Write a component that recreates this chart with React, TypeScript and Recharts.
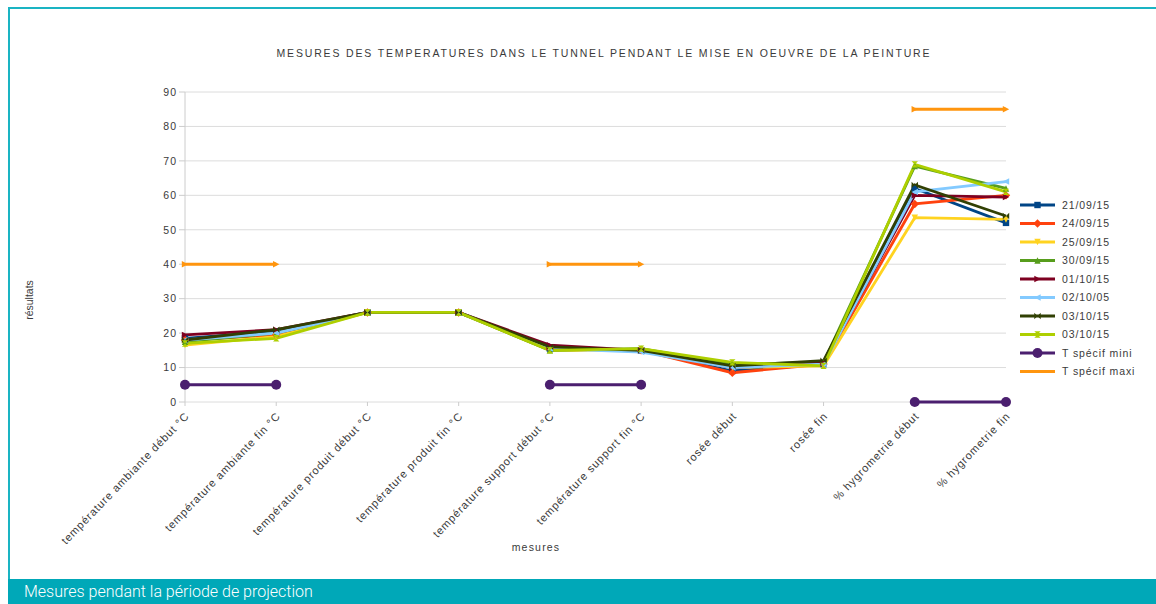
import React from "react";
import { LineChart, Line, XAxis, YAxis, CartesianGrid } from "recharts";

const categories = [
  "température ambiante début °C",
  "température ambiante fin °C",
  "température produit début °C",
  "température produit fin °C",
  "température support début °C",
  "température support fin °C",
  "rosée début",
  "rosée fin",
  "% hygrometrie début",
  "% hygrometrie fin",
];

const s2109 = [18.5, 20.5, 26, 26, 15.5, 15, 9, 11, 62, 52];
const s2409 = [18, 19.5, 26, 26, 15.5, 15, 8.5, 11, 57.5, 60];
const s2509 = [16.5, 19, 26, 26, 15, 15, 10, 10.5, 53.5, 53];
const s3009 = [17.5, 20, 26, 26, 15, 15.5, 11, 11.5, 68.5, 62];
const s0110 = [19.5, 21, 26, 26, 16.5, 15, 10, 11.5, 60, 59.5];
const s0210 = [18, 20, 26, 26, 15.5, 14.5, 10, 11, 61, 64];
const s0310a = [18, 21, 26, 26, 16, 15, 10.5, 12, 63, 54];
const s0310b = [17, 18.5, 26, 26, 15, 15.5, 11.5, 10.5, 69, 61];
const specMin = [5, 5, null, null, 5, 5, null, null, 0, 0];
const specMax = [40, 40, null, null, 40, 40, null, null, 85, 85];

const seriesNames = [
  "21/09/15",
  "24/09/15",
  "25/09/15",
  "30/09/15",
  "01/10/15",
  "02/10/05",
  "03/10/15",
  "03/10/15",
  "T spécif mini",
  "T spécif maxi",
];
const seriesValues = [s2109, s2409, s2509, s3009, s0110, s0210, s0310a, s0310b, specMin, specMax];
const seriesColors = [
  "#004586",
  "#ff420e",
  "#ffd320",
  "#579d1c",
  "#7e0021",
  "#83caff",
  "#314004",
  "#aecf00",
  "#4b1f6f",
  "#ff950e",
];
const yTicks = [0, 10, 20, 30, 40, 50, 60, 70, 80, 90];

const data = categories.map((c, i) => {
  const row: any = { cat: c };
  seriesValues.forEach((s, j) => {
    row["k" + j] = s[i];
  });
  return row;
});

const FONT = "'Liberation Sans', Arial, sans-serif";
const TXT = "#3a3a3a";

function marker(idx: number, cx: number, cy: number, color: string, key?: any) {
  const r = idx === 8 ? 5 : 3.2;
  switch (idx) {
    case 0:
      return <rect key={key} x={cx - r} y={cy - r} width={2 * r} height={2 * r} fill={color} />;
    case 1:
      return (
        <polygon key={key} points={`${cx},${cy - r - 1} ${cx + r + 1},${cy} ${cx},${cy + r + 1} ${cx - r - 1},${cy}`} fill={color} />
      );
    case 2:
      return <polygon key={key} points={`${cx - r},${cy - r} ${cx + r},${cy - r} ${cx},${cy + r}`} fill={color} />;
    case 3:
      return <polygon key={key} points={`${cx - r},${cy + r} ${cx + r},${cy + r} ${cx},${cy - r}`} fill={color} />;
    case 4:
      return <polygon key={key} points={`${cx - r},${cy - r} ${cx - r},${cy + r} ${cx + r},${cy}`} fill={color} />;
    case 5:
      return <polygon key={key} points={`${cx + r},${cy - r} ${cx + r},${cy + r} ${cx - r},${cy}`} fill={color} />;
    case 6:
      return (
        <polygon key={key} points={`${cx - r},${cy - r} ${cx + r},${cy + r} ${cx + r},${cy - r} ${cx - r},${cy + r}`} fill={color} />
      );
    case 7:
      return (
        <polygon key={key} points={`${cx - r},${cy - r} ${cx + r},${cy - r} ${cx - r},${cy + r} ${cx + r},${cy + r}`} fill={color} />
      );
    case 8:
      return <circle key={key} cx={cx} cy={cy} r={r} fill={color} />;
    default:
      return <polygon key={key} points={`${cx - r},${cy - r} ${cx - r},${cy + r} ${cx + r},${cy}`} fill={color} />;
  }
}

function makeDot(idx: number) {
  return (props: any) => {
    const { cx, cy, value, key } = props;
    if (cx == null || cy == null || value == null) return <g key={key} />;
    return marker(idx, cx, cy, seriesColors[idx], key);
  };
}

const XTick = (props: any) => {
  const { x, y, payload } = props;
  return (
    <g transform={`translate(${x + 2},${y + 6})`}>
      <text
        transform="rotate(-46)"
        textAnchor="end"
        fontSize={11}
        letterSpacing={0.85}
        fontFamily={FONT}
        fill={TXT}
        dy={4}
      >
        {payload.value}
      </text>
    </g>
  );
};

export default function App() {
  return (
    <div
      style={{
        position: "absolute",
        left: 0,
        top: 0,
        width: 1156,
        height: 604,
        background: "#fff",
        overflow: "hidden",
        fontFamily: FONT,
      }}
    >
      {/* frame */}
      <div style={{ position: "absolute", left: 8, top: 7, width: 1148, height: 2, background: "#1ab4c3" }} />
      <div style={{ position: "absolute", left: 8, top: 7, width: 2, height: 572, background: "#1ab4c3" }} />
      <div
        style={{
          position: "absolute",
          left: 8,
          top: 579,
          width: 1148,
          height: 25,
          background: "#00a8b8",
          color: "#fff",
          fontFamily: "Roboto, 'Noto Sans', sans-serif",
          fontWeight: 300,
          fontSize: 16,
          lineHeight: "25px",
          paddingLeft: 16,
          boxSizing: "border-box",
        }}
      >
        Mesures pendant la période de projection
      </div>

      <div style={{ position: "absolute", left: 0, top: 0 }}>
        <LineChart
          width={1156}
          height={579}
          data={data}
          margin={{ top: 92, right: 150, bottom: 57, left: 145 }}
        >
          <CartesianGrid vertical={false} stroke="#dcdcdc" />
          <XAxis
            dataKey="cat"
            interval={0}
            height={120}
            tick={<XTick />}
            tickLine={{ stroke: "#ccc" }}
            axisLine={false}
            tickSize={4}
          />
          <YAxis
            domain={[0, 90]}
            ticks={yTicks}
            width={40}
            tick={{ fontSize: 10.5, fontFamily: FONT, fill: TXT, letterSpacing: 1 }}
            tickLine={{ stroke: "#ccc" }}
            axisLine={{ stroke: "#ccc" }}
            tickSize={6}
          />
          {seriesValues.map((_, j) => (
            <Line
              key={j}
              dataKey={"k" + j}
              name={seriesNames[j]}
              type="linear"
              stroke={seriesColors[j]}
              strokeWidth={j >= 8 ? 3 : 2.8}
              dot={makeDot(j)}
              activeDot={false}
              isAnimationActive={false}
            />
          ))}
          <text
            x={603}
            y={57}
            textAnchor="middle"
            fontSize={10.5}
            fontFamily={FONT}
            fill={TXT}
            textLength={653}
            lengthAdjust="spacing"
          >
            MESURES DES TEMPERATURES DANS LE TUNNEL PENDANT LE MISE EN OEUVRE DE LA PEINTURE
          </text>
          <text x={536} y={551} textAnchor="middle" fontSize={10.5} letterSpacing={1.2} fontFamily={FONT} fill={TXT}>
            mesures
          </text>
          <text
            x={33}
            y={300}
            textAnchor="middle"
            fontSize={10.5}
            fontFamily={FONT}
            fill={TXT}
            transform="rotate(-90 33 300)"
          >
            résultats
          </text>
        </LineChart>
      </div>

      {/* legend */}
      <svg style={{ position: "absolute", left: 1015, top: 195 }} width={141} height={190}>
        {seriesNames.map((n, j) => {
          const y = 10 + j * 18.5;
          return (
            <g key={j}>
              <line x1={5} x2={40} y1={y} y2={y} stroke={seriesColors[j]} strokeWidth={3} />
              {j !== 9 ? marker(j, 22.5, y, seriesColors[j]) : null}
              <text x={47} y={y + 3.5} fontSize={10.5} letterSpacing={0.9} fontFamily={FONT} fill={TXT}>
                {n}
              </text>
            </g>
          );
        })}
      </svg>
    </div>
  );
}
